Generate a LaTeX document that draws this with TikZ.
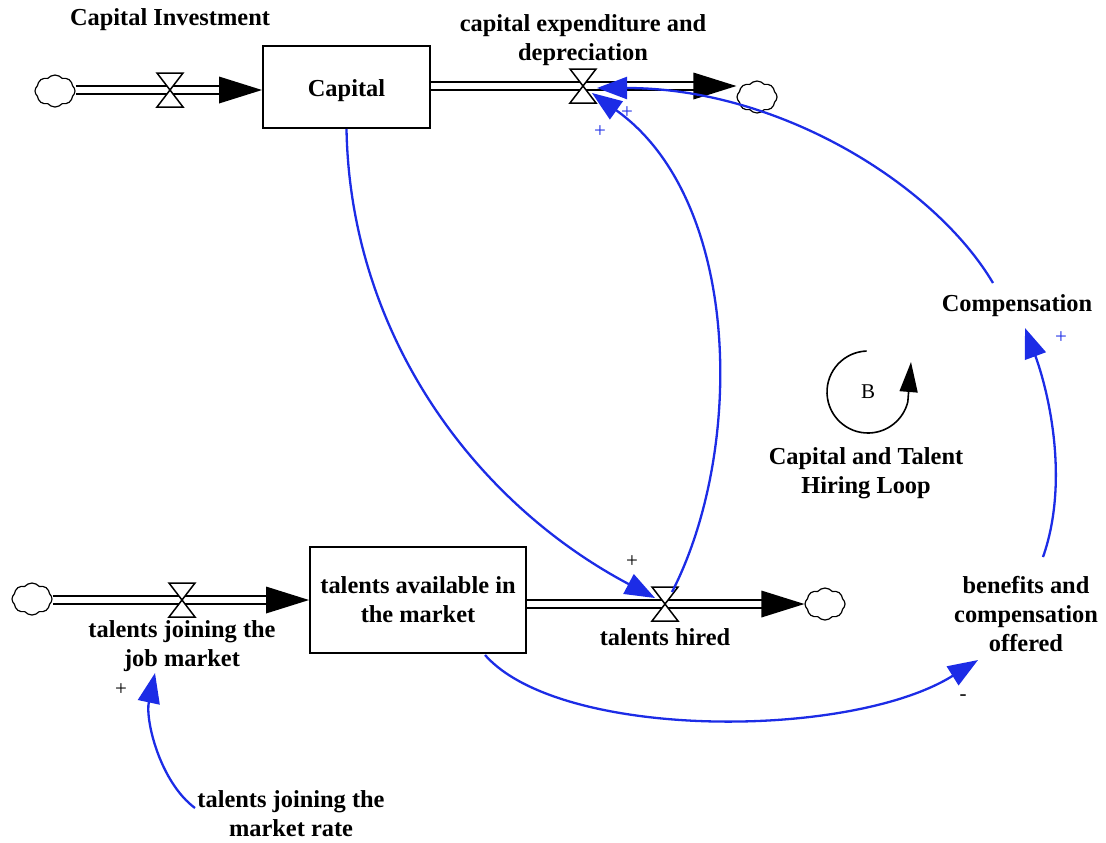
\documentclass[tikz,border=0pt]{standalone}
\usepackage{fontspec}
\setmainfont{Liberation Serif}
\usetikzlibrary{arrows.meta,shapes.symbols}
\definecolor{linkblue}{RGB}{28,44,230}
\newcommand\pipeArrow[1]{\fill (#1) -- ++(-43,-13.5) -- ++(0,27) -- cycle;}
\begin{document}
\begin{tikzpicture}[x=0.5pt,y=-0.5pt,
  lbl/.style={font=\fontsize{12.2}{14.5}\selectfont\bfseries, align=center, inner sep=0pt},
  stock/.style={draw, line width=1pt, fill=white, inner sep=0pt, lbl},
  cloudy/.style={cloud, cloud puffs=8, cloud puff arc=100, draw, line width=0.6pt, inner sep=0pt, minimum width=20pt, minimum height=16pt, aspect=1.25},
  pipe/.style={double distance=3.4pt, line width=0.9pt},
  link/.style={draw=linkblue, line width=1.15pt, -{Triangle[length=15pt,width=11pt]}},
  pol/.style={font=\fontsize{10.5}{12}\selectfont, inner sep=0pt},
  valve/.pic={\draw[line width=0.75pt, fill=white] (-13,-17) -- (13,-17) -- (0,0) -- cycle (-13,17) -- (13,17) -- (0,0) -- cycle;}
]
\useasboundingbox (0,0) rectangle (1106,842);

% ---- top flow: capital ----
\node[stock, minimum width=83.5pt, minimum height=41pt, text height=9.8pt, text depth=0pt] (capital) at (346.5,87) {Capital};
\coordinate (v1) at (170,90);
\coordinate (v2) at (583,86);
\node[cloudy] (cloud1) at (55,91) {};
\node[cloudy] (cloud2) at (757,97) {};
\draw[pipe] (cloud1.east |- v1) -- ([xshift=-10pt]capital.west |- v1);
\pipeArrow{capital.west |- v1}
\draw[pipe] (capital.east |- v2) -- ([xshift=-10pt]cloud2.west |- v2);
\pipeArrow{cloud2.west |- v2}
\pic at (v1) {valve};
\pic at (v2) {valve};
\node[lbl] (capinv) at (170,20) {Capital Investment};
\node[lbl] (capexp) at (583,40) {capital expenditure and\\depreciation};

% ---- bottom flow: talents ----
\node[stock, minimum width=108pt, minimum height=53pt] (talents) at (418,600) {talents available in\\the market};
\coordinate (v3) at (182,600);
\coordinate (v4) at (665,604);
\node[cloudy] (cloud3) at (32,599) {};
\node[cloudy] (cloud4) at (825,604) {};
\draw[pipe] (cloud3.east |- v3) -- ([xshift=-10pt]talents.west |- v3);
\pipeArrow{talents.west |- v3}
\draw[pipe] (talents.east |- v4) -- ([xshift=-10pt]cloud4.west |- v4);
\pipeArrow{cloud4.west |- v4}
\pic at (v3) {valve};
\pic at (v4) {valve};
\node[lbl] (joinjob) at (182,646) {talents joining the\\job market};
\node[lbl] (hired) at (665,637) {talents hired};

% ---- auxiliaries ----
\node[lbl] (comp) at (1017,306) {Compensation};
\node[lbl] (benefits) at (1026,614) {benefits and\\compensation\\offered};
\node[lbl] (rate) at (291,814) {talents joining the\\market rate};

% ---- loop ----
\node[font=\fontsize{10.5}{12}\selectfont, inner sep=0pt] (loopB) at (868,392) {B};
\draw[line width=0.8pt] (loopB.center) ++(268:41) arc[start angle=268, end angle=14, radius=41] coordinate (loopend);
\draw[line width=0.8pt, -{Triangle[length=15pt,width=9pt]}] (loopend) -- (911,362);
\node[lbl] (looplbl) at (866,473) {Capital and Talent\\Hiring Loop};

% ---- causal links ----
\coordinate (l1e) at (655,598);
\coordinate (l2s) at (672,592);
\coordinate (l2e) at (592,93);
\coordinate (l3s) at (993,283);
\coordinate (l3e) at (597,88);
\coordinate (l4s) at (1043,557);
\coordinate (l4e) at (1025,328);
\coordinate (l5s) at (485,655);
\coordinate (l5e) at (978,660);
\coordinate (l6s) at (195,808);
\coordinate (l6e) at (155,673);

\draw[link] (capital.south) .. controls (350,330) and (470,500) .. (l1e);
\draw[link] (l2s) .. controls (745,450) and (742,200) .. (l2e);
\draw[link] (l3s) .. controls (935,185) and (780,88) .. (l3e);
\draw[link] (l4s) .. controls (1070,480) and (1048,390) .. (l4e);
\draw[link] (l5s) .. controls (560,740) and (850,740) .. (l5e);
\draw[link] (l6s) .. controls (160,782) and (145,720) .. (l6e);

% ---- polarities ----
\node[pol, text=linkblue] (p1) at (600,132) {+};
\node[pol, text=linkblue] (p2) at (627,113) {+};
\node[pol] (p3) at (632,562) {+};
\node[pol, text=linkblue] (p4) at (1061,338) {+};
\node[pol] (p5) at (121,690) {+};
\node[pol] (p6) at (963,698) {-};
\end{tikzpicture}
\end{document}
